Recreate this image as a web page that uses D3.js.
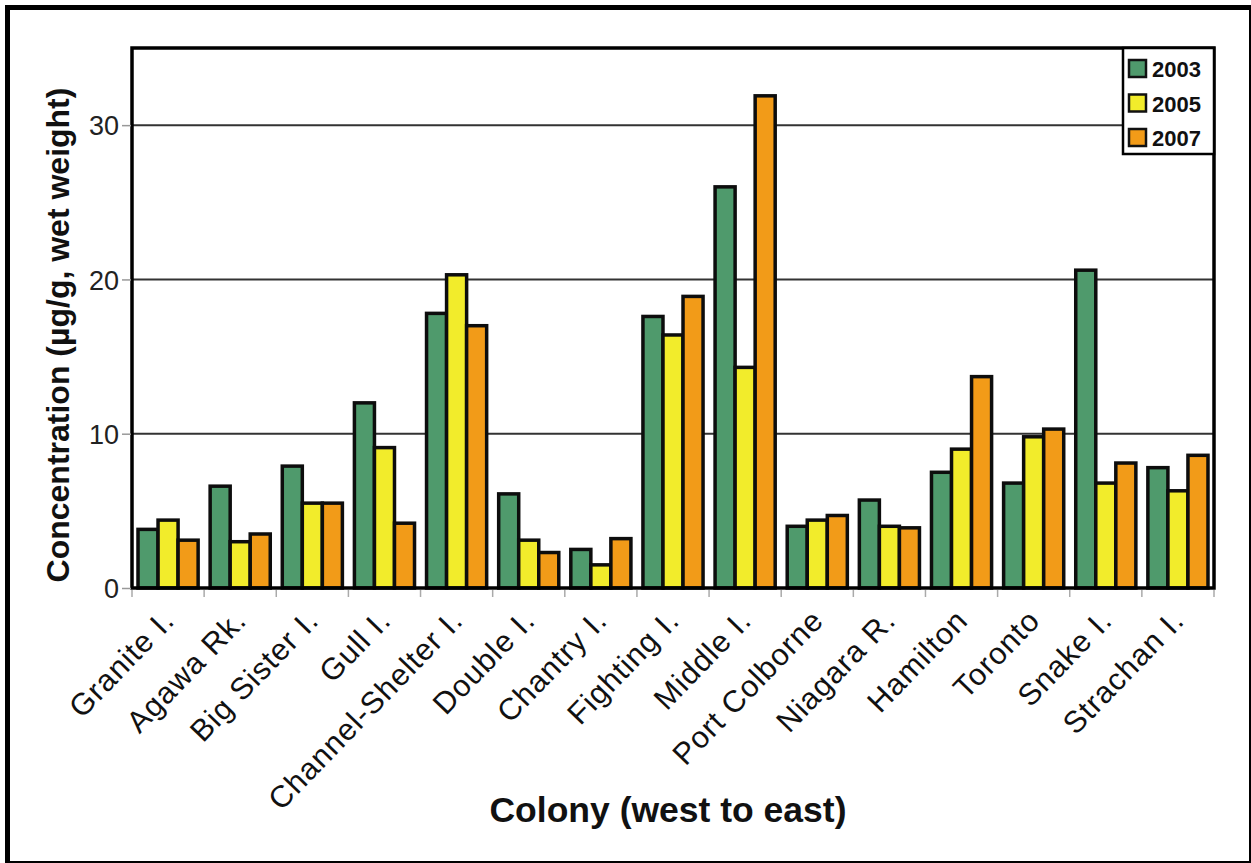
<!DOCTYPE html>
<html>
<head>
<meta charset="utf-8">
<script src="https://cdn.jsdelivr.net/npm/d3@7"></script>
<style>
  body { margin: 0; background: #fff; }
  svg { display: block; font-family: Arial, "Liberation Sans", sans-serif; }
</style>
</head>
<body>
<div id="chart"></div>
<script>
// Data
const colonies = ['Granite I.', 'Agawa Rk.', 'Big Sister I.', 'Gull I.', 'Channel-Shelter I.',
    'Double I.', 'Chantry I.', 'Fighting I.', 'Middle I.', 'Port Colborne',
    'Niagara R.', 'Hamilton', 'Toronto', 'Snake I.', 'Strachan I.'];
const years = ['2003', '2005', '2007'];
const values2003 = [3.8, 6.6, 7.9, 12.0, 17.8, 6.1, 2.5, 17.6, 26.0, 4.0, 5.7, 7.5, 6.8, 20.6, 7.8];
const values2005 = [4.4, 3.0, 5.5, 9.1, 20.3, 3.1, 1.5, 16.4, 14.3, 4.4, 4.0, 9.0, 9.8, 6.8, 6.3];
const values2007 = [3.1, 3.5, 5.5, 4.2, 17.0, 2.3, 3.2, 18.9, 31.9, 4.7, 3.9, 13.7, 10.3, 8.1, 8.6];
const yTicks = [0, 10, 20, 30];

const colors = { '2003': '#4f9a6c', '2005': '#f2ec2b', '2007': '#f29b18' };
const seriesValues = { '2003': values2003, '2005': values2005, '2007': values2007 };

const W = 1251, H = 863;
const plot = { left: 132, right: 1214, top: 48, bottom: 588 };

const svg = d3.select('#chart')
    .append('svg')
    .attr('width', W)
    .attr('height', H);

// outer frame
svg.append('rect')
    .attr('x', 7.5).attr('y', 7.5)
    .attr('width', 1244).attr('height', 856)
    .attr('fill', '#fff')
    .attr('stroke', '#000')
    .attr('stroke-width', 5);

// scales
const x0 = d3.scaleBand()
    .domain(colonies)
    .range([plot.left, plot.right])
    .padding(0);

const x1 = d3.scaleBand()
    .domain(years)
    .range([0, x0.bandwidth()])
    .paddingInner(0)
    .paddingOuter(0.3);

const y = d3.scaleLinear()
    .domain([0, 35])
    .range([plot.bottom, plot.top]);

// gridlines
svg.append('g')
    .selectAll('line')
    .data(yTicks.filter(d => d > 0))
    .enter()
    .append('line')
    .attr('x1', plot.left).attr('x2', plot.right)
    .attr('y1', d => y(d)).attr('y2', d => y(d))
    .attr('stroke', '#333')
    .attr('stroke-width', 2);

// bars
const rows = colonies.map((c, i) => ({
    colony: c,
    vals: years.map(yr => ({ year: yr, value: seriesValues[yr][i] }))
}));

const groups = svg.append('g')
    .selectAll('g')
    .data(rows)
    .enter()
    .append('g')
    .attr('transform', d => `translate(${x0(d.colony)},0)`);

groups.selectAll('rect')
    .data(d => d.vals)
    .enter()
    .append('rect')
    .attr('x', d => x1(d.year))
    .attr('width', x1.bandwidth())
    .attr('y', d => y(d.value))
    .attr('height', d => y(0) - y(d.value))
    .attr('fill', d => colors[d.year])
    .attr('stroke', '#0d0d0d')
    .attr('stroke-width', 3.5);

// plot frame
svg.append('rect')
    .attr('x', plot.left).attr('y', plot.top)
    .attr('width', plot.right - plot.left)
    .attr('height', plot.bottom - plot.top)
    .attr('fill', 'none')
    .attr('stroke', '#000')
    .attr('stroke-width', 3.5);

// y axis
const yAxis = svg.append('g')
    .attr('transform', `translate(${plot.left - 1},0)`)
    .call(d3.axisLeft(y).tickValues(yTicks).tickSize(9).tickPadding(3).tickFormat(d3.format('d')));
yAxis.select('.domain').remove();
yAxis.selectAll('line').attr('stroke', '#999').attr('stroke-width', 1.5);
yAxis.selectAll('text')
    .attr('fill', '#222')
    .style('font-size', '27px')
    .attr('dy', '0.36em');

// x axis tick marks at category boundaries
svg.append('g')
    .selectAll('line')
    .data(colonies.concat(['end']))
    .enter()
    .append('line')
    .attr('x1', d => d === 'end' ? plot.right : x0(d))
    .attr('x2', d => d === 'end' ? plot.right : x0(d))
    .attr('y1', plot.bottom + 2)
    .attr('y2', plot.bottom + 9)
    .attr('stroke', '#aaa')
    .attr('stroke-width', 1.5);

// x labels
const xAxis = svg.append('g')
    .attr('transform', `translate(0,${plot.bottom})`)
    .call(d3.axisBottom(x0).tickSize(0));
xAxis.select('.domain').remove();
xAxis.selectAll('text')
    .attr('x', 0).attr('y', 0).attr('dy', 0)
    .attr('transform', 'translate(8,34) rotate(-46)')
    .style('text-anchor', 'end')
    .style('font-size', '30.5px')
    .style('letter-spacing', '1px')
    .attr('fill', '#111');

// axis titles
svg.append('text')
    .attr('transform', 'translate(69,335) rotate(-90)')
    .attr('text-anchor', 'middle')
    .style('font-size', '32px')
    .style('font-weight', 'bold')
    .attr('fill', '#111')
    .text('Concentration (µg/g, wet weight)');

svg.append('text')
    .attr('x', 668)
    .attr('y', 822)
    .attr('text-anchor', 'middle')
    .style('font-size', '35.5px')
    .style('font-weight', 'bold')
    .attr('fill', '#111')
    .text('Colony (west to east)');

// legend
const legend = svg.append('g');
legend.append('rect')
    .attr('x', 1123).attr('y', 48)
    .attr('width', plot.right - 1123).attr('height', 106)
    .attr('fill', '#fff')
    .attr('stroke', '#000')
    .attr('stroke-width', 2.5);

const items = legend.selectAll('g.item')
    .data(years)
    .enter()
    .append('g')
    .attr('class', 'item')
    .attr('transform', (d, i) => `translate(1129,${60 + i * 34.5})`);

items.append('rect')
    .attr('width', 17).attr('height', 17)
    .attr('fill', d => colors[d])
    .attr('stroke', '#111')
    .attr('stroke-width', 2.5);

items.append('text')
    .attr('x', 23)
    .attr('y', 17)
    .style('font-size', '22px')
    .style('font-weight', 'bold')
    .attr('fill', '#111')
    .text(d => d);
</script>
</body>
</html>
